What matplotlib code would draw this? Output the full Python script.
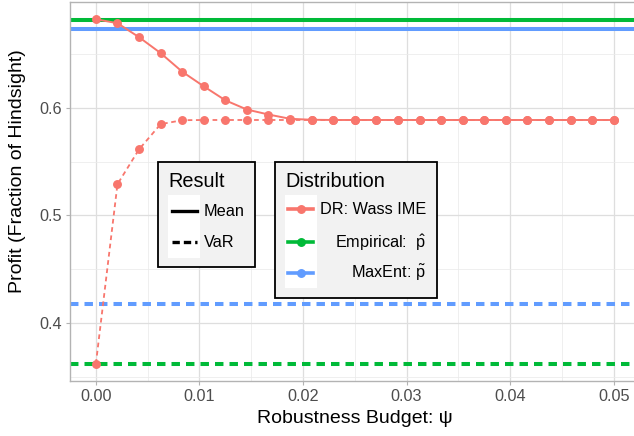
import numpy as np
import matplotlib
matplotlib.use("Agg")
import matplotlib.pyplot as plt
from matplotlib.patches import Rectangle
from matplotlib.lines import Line2D

plt.rcParams['font.family'] = ['Liberation Sans', 'DejaVu Sans']
plt.rcParams['mathtext.fontset'] = 'custom'
plt.rcParams['mathtext.rm'] = 'Liberation Sans'
plt.rcParams['mathtext.it'] = 'Liberation Sans'

# ---- data ----
psi = np.linspace(0, 0.05, 25)
dr_mean = [0.6824, 0.6787, 0.6657, 0.6509, 0.6336, 0.6200, 0.6070, 0.5984,
           0.5938, 0.5898, 0.5889, 0.5887, 0.5887, 0.5887, 0.5887, 0.5887,
           0.5887, 0.5887, 0.5887, 0.5887, 0.5887, 0.5887, 0.5887, 0.5887, 0.5887]
dr_var = [0.362, 0.529, 0.5614, 0.5848, 0.5885, 0.5887, 0.5887, 0.5887,
          0.5887, 0.5887, 0.5887, 0.5887, 0.5887, 0.5887, 0.5887, 0.5887,
          0.5887, 0.5887, 0.5887, 0.5887, 0.5887, 0.5887, 0.5887, 0.5887, 0.5887]
emp_mean = 0.6818
emp_var = 0.362
maxent_mean = 0.6734
maxent_var = 0.418

dist_labels = ["DR: Wass IME", r"Empirical:  $\hat{\mathrm{p}}$", r"MaxEnt: $\tilde{\mathrm{p}}$"]
result_labels = ["Mean", "VaR"]
xticks = [0.00, 0.01, 0.02, 0.03, 0.04, 0.05]
yticks = [0.4, 0.5, 0.6]

RED = "#F8766D"
GREEN = "#00BA38"
BLUE = "#619CFF"
W, H = 634, 436

fig = plt.figure(figsize=(W / 100, H / 100), dpi=100)
ax = fig.add_axes([70 / W, 1 - 381 / H, 569.6 / W, 379 / H])

# horizontal reference lines
ax.axhline(emp_mean, color=GREEN, lw=2.9, zorder=2)
ax.axhline(maxent_mean, color=BLUE, lw=2.9, zorder=2)
ax.axhline(emp_var, color=GREEN, lw=2.9, dashes=(2.1, 1.5), zorder=2)
ax.axhline(maxent_var, color=BLUE, lw=2.9, dashes=(2.1, 1.5), zorder=2)

ax.plot(psi, dr_mean, color=RED, lw=1.4, marker='o', ms=5.4, zorder=3)
ax.plot(psi, dr_var, color=RED, lw=1.3, dashes=(2.6, 2.0), marker='o', ms=5.4, zorder=3)

ax.set_xticks(xticks)
ax.set_xticklabels([f"{v:.2f}" for v in xticks])
ax.set_yticks(yticks)
ax.set_yticklabels([f"{v:.1f}" for v in yticks])
ax.set_xticks(np.arange(-0.005, 0.056, 0.01), minor=True)
ax.set_yticks([0.35, 0.45, 0.55, 0.65], minor=True)

lo = min(min(dr_var), emp_var)
hi = max(max(dr_mean), emp_mean)
rng = hi - lo
ax.set_ylim(lo - 0.05 * rng, hi + 0.05 * rng)
ax.set_xlim(-0.0025, 0.0525)

ax.grid(which='major', color='#DEDEDE', lw=0.9)
ax.grid(which='minor', color='#EBEBEB', lw=0.55)
ax.set_axisbelow(True)
ax.tick_params(which='major', length=3, width=0.8, color='#B3B3B3',
               labelcolor='#4D4D4D', labelsize=11.7, pad=3)
ax.tick_params(which='minor', length=0)
for s in ax.spines.values():
    s.set_color('#B3B3B3')
    s.set_linewidth(1.0)

ax.set_xlabel("Robustness Budget: ψ", fontsize=14, labelpad=4)
ax.set_ylabel("Profit (Fraction of Hindsight)", fontsize=14)
ax.yaxis.set_label_coords(-(70 - 17.5) / 569.6, (381 - 171) / 379)
ax.yaxis.label.set_va('center')

# ---- legends (drawn in figure pixel coordinates) ----
def P(x, y):
    return (x / W, 1 - y / H)

def box(x0, y0, x1, y1, **kw):
    r = Rectangle(P(x0, y1), (x1 - x0) / W, (y1 - y0) / H, transform=fig.transFigure, **kw)
    fig.add_artist(r)

def line(x0, x1, y, **kw):
    l = Line2D([x0 / W, x1 / W], [1 - y / H, 1 - y / H], transform=fig.transFigure, **kw)
    fig.add_artist(l)

# Result legend
box(158, 162, 255, 267, facecolor='#F2F2F2', edgecolor='black', lw=1.3, zorder=10)
fig.text(*P(168, 181), "Result", fontsize=14.3, va='center', ha='left', zorder=11)
box(168, 195, 200, 258, facecolor='white', edgecolor='none', zorder=11)
res_y = [211, 242.5]
res_style = [dict(ls='-'), dict(dashes=(2.2, 1.2))]
for lab, yy, st in zip(result_labels, res_y, res_style):
    line(172, 197, yy, color='black', lw=2.4, zorder=12, **st)
    fig.text(*P(204, yy), lab, fontsize=11.7, va='center', ha='left', zorder=12)

# Distribution legend
box(275, 162, 437, 298, facecolor='#F2F2F2', edgecolor='black', lw=1.3, zorder=10)
fig.text(*P(285, 181), "Distribution", fontsize=14.3, va='center', ha='left', zorder=11)
box(285, 195, 317, 288, facecolor='white', edgecolor='none', zorder=11)
dist_y = [209.5, 242.5, 272.5]
for lab, yy, c in zip(dist_labels, dist_y, [RED, GREEN, BLUE]):
    line(288, 313, yy, color=c, lw=2.6, zorder=12)
    fig.add_artist(Line2D([300.5 / W], [1 - yy / H], transform=fig.transFigure,
                          marker='o', ms=5.4, color=c, zorder=13))
    fig.text(*P(426, yy), lab, fontsize=11.7, va='center', ha='right', zorder=12)

fig.savefig("out.png", dpi=100)
